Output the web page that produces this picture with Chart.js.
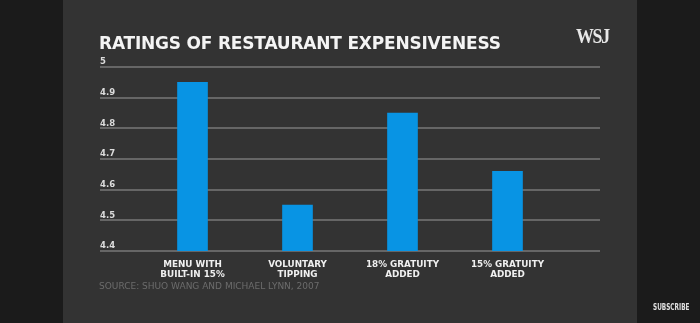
<!DOCTYPE html>
<html>
<head>
<meta charset="utf-8">
<script src="https://cdn.jsdelivr.net/npm/chart.js@4/dist/chart.umd.min.js"></script>
<style>
  html, body { margin: 0; padding: 0; background: #1b1b1b; }
  #stage { position: relative; width: 700px; height: 323px; overflow: hidden; background: #1b1b1b; }
  #panel { position: absolute; left: 63px; top: 0; width: 574px; height: 323px; background: #333333; }
  #chart { position: absolute; left: 0; top: 0; }
  .txt { position: absolute; white-space: nowrap; }
  #title { left: 99px; top: 33px; font: bold 17px "DejaVu Sans", sans-serif; color: #f4f4f4; letter-spacing: -0.2px; }
  #logo { left: 576px; top: 24px; font: bold 21px "Liberation Serif", serif; color: #e8e8e8; letter-spacing: -1.5px; transform: scaleX(0.85); transform-origin: left top; }
  #source { left: 99px; top: 281px; font: 9px "DejaVu Sans", sans-serif; color: #6c6c6c; }
  #subscribe { left: 653px; top: 303px; font: bold 8px "DejaVu Sans", sans-serif; color: #e0e0e0; transform: scaleX(0.72); transform-origin: left top; }
</style>
</head>
<body>
<div id="stage">
  <div id="panel"></div>
  <canvas id="chart" width="700" height="323"></canvas>
  <div class="txt" id="title">RATINGS OF RESTAURANT EXPENSIVENESS</div>
  <div class="txt" id="logo">WSJ</div>
  <div class="txt" id="source">SOURCE: SHUO WANG AND MICHAEL LYNN, 2007</div>
  <div class="txt" id="subscribe">SUBSCRIBE</div>
</div>
<script>
// Survey conditions (two-line axis labels) and mean expensiveness ratings
const categories = [
  ["MENU WITH", "BUILT-IN 15%"],
  ["VOLUNTARY", "TIPPING"],
  ["18% GRATUITY", "ADDED"],
  ["15% GRATUITY", "ADDED"]
];
const ratings = [4.95, 4.55, 4.85, 4.66];
const yTicks = [4.4, 4.5, 4.6, 4.7, 4.8, 4.9, 5];

const points = ratings.map((v, i) => ({ x: i, y: v }));

new Chart(document.getElementById('chart'), {
  type: 'bar',
  data: {
    datasets: [{
      data: points,
      backgroundColor: '#0894e4',
      borderWidth: 0,
      barThickness: 30
    }]
  },
  options: {
    responsive: false,
    animation: false,
    layout: { padding: { left: 100, right: 100, top: 67, bottom: 32 } },
    plugins: { legend: { display: false }, tooltip: { enabled: false } },
    scales: {
      x: {
        type: 'linear',
        offset: false,
        min: -0.881,
        max: 3.881,
        afterFit: (s) => { s.height = 40; },
        grid: { display: false, drawTicks: false, offset: false },
        border: { display: false },
        afterBuildTicks: (s) => { s.ticks = categories.map((c, i) => ({ value: i })); },
        ticks: {
          autoSkip: false,
          maxRotation: 0,
          padding: 9,
          color: '#f0f0f0',
          font: { family: 'DejaVu Sans', weight: 'bold', size: 8.8, lineHeight: 1.15 },
          callback: (v) => categories[v]
        }
      },
      y: {
        min: 4.4,
        max: 5,
        afterBuildTicks: (s) => { s.ticks = yTicks.map(v => ({ value: v })); },
        grid: { color: '#666666', lineWidth: 2, drawTicks: false },
        border: { display: false },
        ticks: {
          mirror: true,
          padding: 0,
          labelOffset: -5,
          color: '#dcdcdc',
          font: { family: 'DejaVu Sans', weight: 'bold', size: 8.5 },
          callback: (v) => String(Math.round(v * 10) / 10)
        }
      }
    }
  }
});
</script>
</body>
</html>
